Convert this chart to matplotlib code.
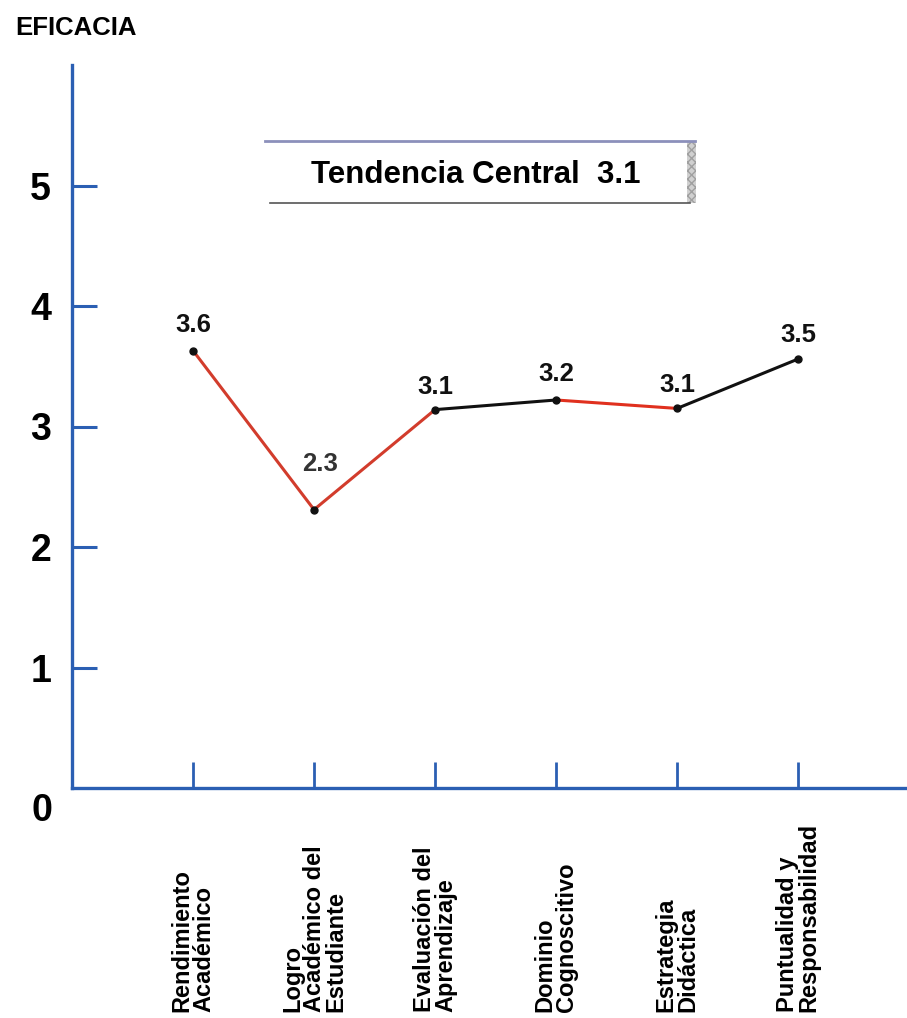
import matplotlib
matplotlib.use("Agg")
import matplotlib.pyplot as plt
import matplotlib.transforms as mtransforms
from matplotlib.patches import Rectangle
from matplotlib.lines import Line2D

plt.rcParams['font.family'] = ['Liberation Sans', 'DejaVu Sans']
plt.rcParams['font.weight'] = 'bold'

categories = ["Rendimiento\nAcadémico",
              "Logro\nAcadémico del\nEstudiante",
              "Evaluación del\nAprendizaje",
              "Dominio\nCognoscitivo",
              "Estrategia\nDidáctica",
              "Puntualidad y\nResponsabilidad"]
values = [3.63, 2.31, 3.14, 3.22, 3.15, 3.56]
value_labels = ["3.6", "2.3", "3.1", "3.2", "3.1", "3.5"]
segment_colors = ["#d23c2c", "#d23c2c", "#111111", "#e0301e", "#111111"]
yticks = [1, 2, 3, 4, 5]
central_tendency = 3.1

W, H = 907, 1018
fig = plt.figure(figsize=(W / 100, H / 100), dpi=100)
ax = fig.add_axes([72 / W, (H - 788) / H, 1 - 72 / W, (788 - 65) / H])

blue = "#2b5fb3"
x = list(range(len(categories)))
for i in range(len(values) - 1):
    ax.plot(x[i:i + 2], values[i:i + 2], color=segment_colors[i], lw=2.2,
            solid_capstyle='round', zorder=3)
ax.plot(x, values, 'o', color='#111111', ms=5, zorder=4)

offsets = [10, 24, 8, 10, 8, 9]
xshift = [0, 4, 0, 0, 0, 0]
for i, (xv, v, lab) in enumerate(zip(x, values, value_labels)):
    ax.annotate(lab, (xv, v), xytext=(xshift[i], offsets[i]), textcoords='offset points',
                ha='center', va='bottom', fontsize=18.5, fontweight='bold',
                color='#333333' if i == 1 else '#111111')

ax.set_xlim(-1, 5.9)
ax.set_ylim(0, 6.0)

for s in ['top', 'right']:
    ax.spines[s].set_visible(False)
for s in ['left', 'bottom']:
    ax.spines[s].set_color(blue)
    ax.spines[s].set_linewidth(2.4)

ax.set_yticks(yticks)
ax.set_yticklabels([str(t) for t in yticks], fontsize=27, fontweight='bold')
ax.tick_params(axis='y', direction='in', length=18, width=2.2, color=blue, pad=15)
ax.set_xticks(x)
ax.set_xticklabels([])
ax.tick_params(axis='x', direction='in', length=19, width=2.0, color=blue)

ax.text(-0.023, -0.032, "0", transform=ax.transAxes, ha='right', va='center',
        fontsize=27, fontweight='bold')

trans = mtransforms.blended_transform_factory(ax.transData, fig.transFigure)
for xv, cat in zip(x, categories):
    ax.text(xv, 6 / H, cat, transform=trans, rotation=90, ha='center', va='bottom',
            multialignment='left', fontsize=17, fontweight='bold', linespacing=0.92)

fig.text(15 / W, 1 - 28 / H, "EFICACIA", ha='left', va='center', fontsize=18.5,
         fontweight='bold')

# Central tendency box
fig.add_artist(Line2D([265 / W, 695 / W], [1 - 141 / H, 1 - 141 / H], color='#8c90bb',
                      lw=2, transform=fig.transFigure))
fig.add_artist(Line2D([270 / W, 690 / W], [1 - 203 / H, 1 - 203 / H], color='#555555',
                      lw=1.2, transform=fig.transFigure))
fig.add_artist(Rectangle((687 / W, 1 - 203 / H), 9 / W, 62 / H, transform=fig.transFigure,
                         facecolor='#d0d0d0', edgecolor='#a0a0a0', lw=0, hatch='xxxx'))
fig.text(476 / W, 1 - 175 / H, f"Tendencia Central  {central_tendency}", ha='center',
         va='center', fontsize=22.5, fontweight='bold')

fig.savefig("out.png", dpi=100, facecolor='white')
